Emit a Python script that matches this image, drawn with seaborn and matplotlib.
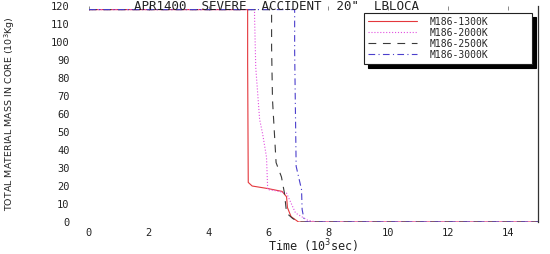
import matplotlib
matplotlib.use("Agg")
import matplotlib.pyplot as plt
import seaborn as sns
import pandas as pd

# ---- data (time in 10^3 s, mass in 10^3 kg) ----
t_1300 = [0, 5.30, 5.30, 5.32, 5.45, 6.0, 6.45, 6.60, 6.63, 6.75, 7.0, 15]
m_1300 = [118, 118, 88, 22, 20, 18.5, 17, 14, 8, 3, 0, 0]

t_2000 = [0, 5.53, 5.53, 5.57, 5.70, 5.80, 5.93, 5.97, 6.2, 6.6, 6.9, 7.3, 7.6, 15]
m_2000 = [118, 118, 115, 86, 57, 49, 36, 18, 17.5, 16, 5, 1, 0, 0]

t_2500 = [0, 6.10, 6.10, 6.13, 6.25, 6.43, 6.53, 6.60, 6.8, 7.0, 15]
m_2500 = [118, 118, 97, 68, 33, 25, 16, 5, 2, 0, 0]

t_3000 = [0, 6.87, 6.87, 6.90, 6.92, 7.10, 7.12, 7.2, 15]
m_3000 = [118, 118, 95, 57, 31, 18, 7, 0, 0]

series_labels = ["M186-1300K", "M186-2000K", "M186-2500K", "M186-3000K"]

x_ticks = [0, 2, 4, 6, 8, 10, 12, 14]
y_ticks = [0, 10, 20, 30, 40, 50, 60, 70, 80, 90, 100, 110, 120]

title_text = 'APR1400  SEVERE  ACCIDENT  20"  LBLOCA'
x_label = "Time (10$^3$sec)"
y_label = "TOTAL MATERIAL MASS IN CORE (10$^3$Kg)"

# ---- styling ----
sns.set_style("white")
plt.rcParams["font.family"] = ["DejaVu Sans Mono", "DejaVu Sans"]

colors = ["#e4373c", "#e24fe0", "#3a3a3a", "#4b3fcc"]
styles = ["-", ":", (0, (7, 6)), (0, (6, 3, 1, 3))]

fig = plt.figure(figsize=(5.5, 2.54), dpi=100)
ax = fig.add_axes([89 / 550, 32 / 254, 449 / 550, 216 / 254])

all_t = [t_1300, t_2000, t_2500, t_3000]
all_m = [m_1300, m_2000, m_2500, m_3000]
for t, m, lab, c, ls in zip(all_t, all_m, series_labels, colors, styles):
    df = pd.DataFrame({"t": t, "m": m})
    sns.lineplot(data=df, x="t", y="m", ax=ax, sort=False, estimator=None,
                 color=c, linestyle=ls, linewidth=0.8, label=lab)

ax.set_xlim(0, 15)
ax.set_ylim(0, 120)
ax.set_xticks(x_ticks)
ax.set_xticklabels([str(v) for v in x_ticks])
ax.set_yticks(y_ticks)
ax.set_yticklabels([str(v) for v in y_ticks])
ax.tick_params(axis="both", direction="in", length=3, width=0.6, color="#777777",
               labelsize=7.5, labelcolor="#222222", top=True)
ax.tick_params(axis="y", pad=14)
ax.tick_params(axis="x", pad=4)

for side in ["left", "top", "bottom"]:
    ax.spines[side].set_visible(False)
ax.spines["right"].set_color("#333333")
ax.spines["right"].set_linewidth(0.9)

ax.set_xlabel(x_label, fontsize=8.5, color="#222222")
ax.set_ylabel(y_label, fontsize=6.8, color="#222222", family=["DejaVu Sans"])
ax.xaxis.set_label_coords((313 - 89) / 449, -0.07)
ax.yaxis.set_label_coords((17 - 89) / 449, (222 - 114) / 216)

fig.text(276 / 550, 1.0, title_text, ha="center", va="top", fontsize=9,
         color="#222222")

leg = ax.legend(loc="upper left",
                bbox_to_anchor=((364 - 89) / 449, 0.968, (532 - 364) / 449, 0.0),
                mode="expand", fontsize=7, frameon=True, fancybox=False,
                shadow={"color": "black", "alpha": 1.0, "ox": 3, "oy": -3},
                handlelength=5.0, handletextpad=1.3, labelspacing=0.1,
                borderpad=0.4, borderaxespad=0)
leg.get_frame().set_edgecolor("#222222")
leg.get_frame().set_linewidth(0.8)
leg.get_frame().set_facecolor("white")

fig.savefig("out.png", dpi=100)
